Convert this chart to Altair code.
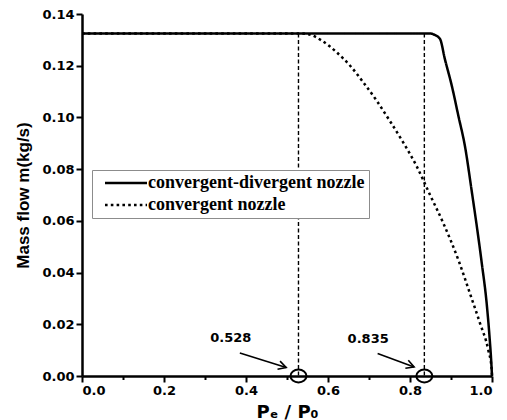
import math
import altair as alt
import pandas as pd

# Mass flow through the nozzle versus back-pressure ratio Pe/P0
cd_x = [0.0, 0.850, 0.856, 0.873, 0.885, 0.902, 0.918, 0.934, 0.950, 0.975, 0.987, 0.994, 0.998, 1.0]
cd_y = [0.1325, 0.1325, 0.1322, 0.1304, 0.1226, 0.1122, 0.1006, 0.0889, 0.0721, 0.0437, 0.0281, 0.0151, 0.0060, 0.0]

c_x = [0.0, 0.528, 0.552, 0.585, 0.621, 0.654, 0.686, 0.719, 0.751, 0.784, 0.816, 0.849,
       0.881, 0.920, 0.946, 0.971, 0.991, 0.999, 1.0]
c_y = [0.1325, 0.1325, 0.1322, 0.1297, 0.1252, 0.1200, 0.1136, 0.1064, 0.0986, 0.0902, 0.0812, 0.0700,
       0.0592, 0.0440, 0.0320, 0.0203, 0.0100, 0.0030, 0.0]

series_names = ["convergent-divergent nozzle", "convergent nozzle"]

# Critical pressure ratios and their annotations
crit_x = [0.528, 0.835]
crit_top = [0.1325, 0.1325]
crit_label = ["0.528", "0.835"]
label_x = [0.363, 0.698]
label_y = [0.0146, 0.0143]
arrow_x1 = [0.385, 0.721]
arrow_y1 = [0.0089, 0.0087]
arrow_x2 = [0.498, 0.810]
arrow_y2 = [0.0033, 0.0035]

W, H = 410, 362
X_MAX, Y_MAX = 1.0, 0.14

curves = pd.concat([
    pd.DataFrame({"ratio": cd_x, "flow": cd_y, "series": series_names[0], "order": range(len(cd_x))}),
    pd.DataFrame({"ratio": c_x, "flow": c_y, "series": series_names[1], "order": range(len(c_x))}),
])

crit = pd.DataFrame({"x": crit_x, "top": crit_top, "zero": [0.0, 0.0], "label": crit_label})

angles = [math.degrees(math.atan2((y1 - y2) * H / Y_MAX, (x2 - x1) * W / X_MAX))
          for x1, y1, x2, y2 in zip(arrow_x1, arrow_y1, arrow_x2, arrow_y2)]
arrows = pd.DataFrame({"x1": arrow_x1, "y1": arrow_y1, "x2": arrow_x2, "y2": arrow_y2, "angle": angles})
labels = pd.DataFrame({"x": label_x, "y": label_y, "text": crit_label})

x_ticks = [round(i * 0.1, 1) for i in range(11)]
y_ticks = [round(i * 0.01, 2) for i in range(15)]

x_scale = alt.Scale(domain=[0, X_MAX], nice=False, zero=False)
y_scale = alt.Scale(domain=[0, Y_MAX], nice=False)

x_axis = alt.Axis(
    values=x_ticks,
    labelExpr="round(datum.value*10) % 2 == 0 ? format(datum.value, '.1f') : ''",
    tickSize={"condition": {"test": "round(datum.value*10) % 2 == 0", "value": 6}, "value": 3.5},
    title="Pₑ / P₀", titleFontSize=18, titlePadding=6, labelOverlap=False, grid=False,
)
y_axis = alt.Axis(
    values=y_ticks,
    labelExpr="round(datum.value*100) % 2 == 0 ? format(datum.value, '.2f') : ''",
    tickSize={"condition": {"test": "round(datum.value*100) % 2 == 0", "value": 6}, "value": 3.5},
    title="Mass flow m(kg/s)", titleFontSize=17, titleFont="Liberation Sans", titlePadding=9,
    labelOverlap=False, grid=False,
)

# Legend sample: a short line starting at the symbol centre and running right
legend_line = "M 0 0 L 6 0"

lines = alt.Chart(curves).mark_line(color="black", strokeWidth=2.5, interpolate="monotone").encode(
    x=alt.X("ratio:Q", scale=x_scale, axis=x_axis),
    y=alt.Y("flow:Q", scale=y_scale, axis=y_axis),
    order="order:Q",
    detail="series:N",
    strokeDash=alt.StrokeDash(
        "series:N",
        scale=alt.Scale(domain=series_names, range=[[1, 0], [2.6, 3.2]]),
        sort=series_names,
        legend=alt.Legend(title=None, orient="none", legendX=10, legendY=156, symbolType=legend_line),
    ),
)

dashed = alt.Chart(crit).mark_rule(color="black", strokeWidth=1.4, strokeDash=[4, 2.5]).encode(
    x="x:Q", y="top:Q", y2="zero:Q"
)

ellipse = "M -1 0 A 1 0.8 0 1 1 1 0 A 1 0.8 0 1 1 -1 0 Z"
circles = alt.Chart(crit).mark_point(
    shape=ellipse, size=256, filled=False, color="black", strokeWidth=2, opacity=1
).encode(x="x:Q", y="zero:Q")

arrow_lines = alt.Chart(arrows).mark_rule(color="black", strokeWidth=1.6).encode(
    x="x1:Q", y="y1:Q", x2="x2:Q", y2="y2:Q"
)
arrow_heads = alt.Chart(arrows).mark_point(
    shape="M -1 -0.55 L 0 0 L -1 0.55", size=240, filled=False, color="black",
    strokeWidth=1.6, opacity=1
).encode(x="x2:Q", y="y2:Q", angle=alt.Angle("angle:Q", scale=None))

texts = alt.Chart(labels).mark_text(
    font="DejaVu Sans", fontWeight="bold", fontSize=13, color="black"
).encode(x="x:Q", y="y:Q", text="text:N")

chart = alt.layer(dashed, lines, circles, arrow_lines, arrow_heads, texts).properties(
    width=W, height=H,
    autosize=alt.AutoSizeParams(type="none"),
    padding={"left": 82, "top": 14, "right": 15, "bottom": 44},
).configure_view(stroke=None).configure_axis(
    domainColor="black", domainWidth=2.5, tickColor="black", tickWidth=2,
    labelFont="DejaVu Sans", labelFontWeight="bold", labelFontSize=13, labelColor="black",
    labelPadding=2, titleFont="DejaVu Sans", titleFontWeight="bold", titleColor="black",
).configure_legend(
    labelFont="Liberation Serif", labelFontWeight="bold", labelFontSize=18, labelColor="black",
    labelLimit=0, symbolStrokeColor="black", symbolStrokeWidth=2.5, symbolSize=196,
    labelOffset=34, strokeColor="#8c8c8c", fillColor="white", padding=4, rowPadding=4,
)

chart.save("out.html", embed_options={"renderer": "svg", "actions": False})
